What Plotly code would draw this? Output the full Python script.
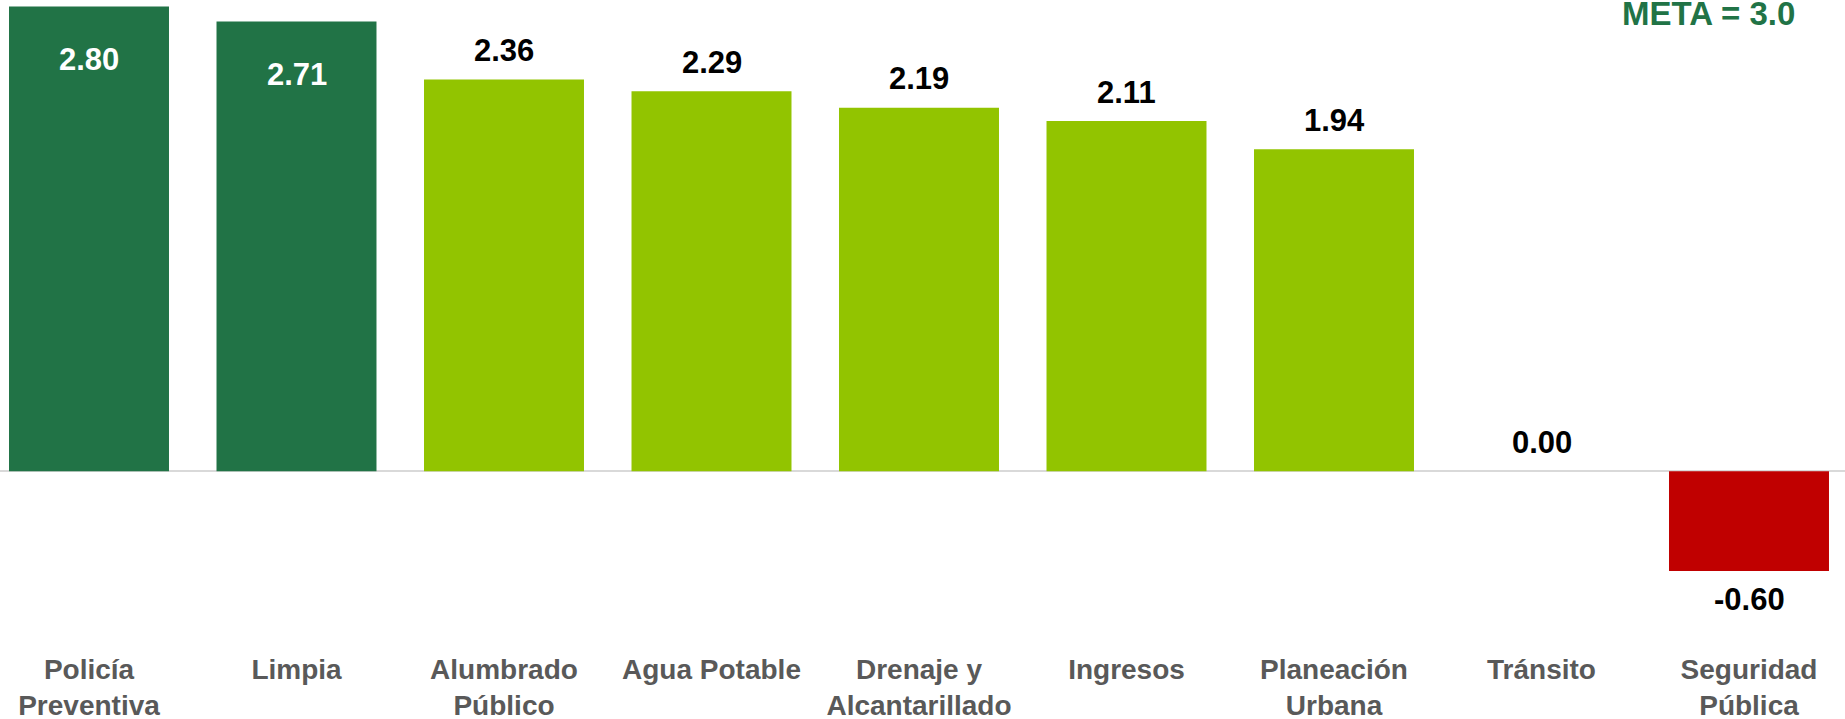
import plotly.graph_objects as go

categories = ["Policía<br>Preventiva", "Limpia", "Alumbrado<br>Público", "Agua Potable",
              "Drenaje y<br>Alcantarillado", "Ingresos", "Planeación<br>Urbana", "Tránsito",
              "Seguridad<br>Pública"]
values = [2.80, 2.71, 2.36, 2.29, 2.19, 2.11, 1.94, 0.00, -0.60]
meta_text = "META = 3.0"

DARK = "#217346"
LIGHT = "#92C400"
RED = "#C00000"
bar_colors = [DARK, DARK, LIGHT, LIGHT, LIGHT, LIGHT, LIGHT, LIGHT, RED]
inside = [True, True, False, False, False, False, False, False, False]

FONT = "Liberation Sans, Arial, sans-serif"
W, H = 1845, 719
plot_bottom = 650
zero_px = 471.3
px_per_unit = 166.0
y_top = zero_px / px_per_unit
y_bot = -(plot_bottom - zero_px) / px_per_unit

spacing = 207.5
x0 = -89 / spacing
x1 = x0 + W / spacing

x = list(range(len(categories)))

fig = go.Figure()
fig.add_trace(go.Bar(
    x=x, y=values, width=0.771,
    marker=dict(color=bar_colors, line=dict(width=0)),
    hoverinfo="skip",
))

annotations = []
for i, v in enumerate(values):
    if inside[i]:
        shift, col = -53, "white"
    elif v < 0:
        shift, col = -29, "black"
    else:
        shift, col = 29, "black"
    annotations.append(dict(
        x=i, y=v, xref="x", yref="y", text=f"{v:.2f}", showarrow=False,
        yanchor="middle", xanchor="center", yshift=shift,
        font=dict(family=FONT, size=31, color=col, weight="bold"),
    ))
annotations.append(dict(
    x=1708 / W, y=1 - 14 / plot_bottom, xref="paper", yref="paper",
    text=meta_text, showarrow=False, xanchor="center", yanchor="middle",
    font=dict(family=FONT, size=33, color=DARK, weight="bold"),
))

fig.update_layout(
    width=W, height=H,
    margin=dict(l=0, r=0, t=0, b=H - plot_bottom, pad=0),
    paper_bgcolor="white", plot_bgcolor="white",
    showlegend=False,
    annotations=annotations,
    xaxis=dict(
        range=[x0, x1], tickmode="array", tickvals=x, ticktext=categories,
        showgrid=False, showline=False, zeroline=False, ticks="",
        tickfont=dict(family=FONT, size=28, color="#595959", weight="bold"),
        automargin=False, fixedrange=True,
    ),
    yaxis=dict(
        range=[y_bot, y_top], showgrid=False, showticklabels=False, ticks="",
        showline=False, zeroline=True, zerolinecolor="#D9D9D9", zerolinewidth=2,
        automargin=False, fixedrange=True,
    ),
)

fig.write_html(
    "out.html",
    config={"displayModeBar": False},
    post_script="document.body.style.margin='0';document.body.style.overflow='hidden';",
)
